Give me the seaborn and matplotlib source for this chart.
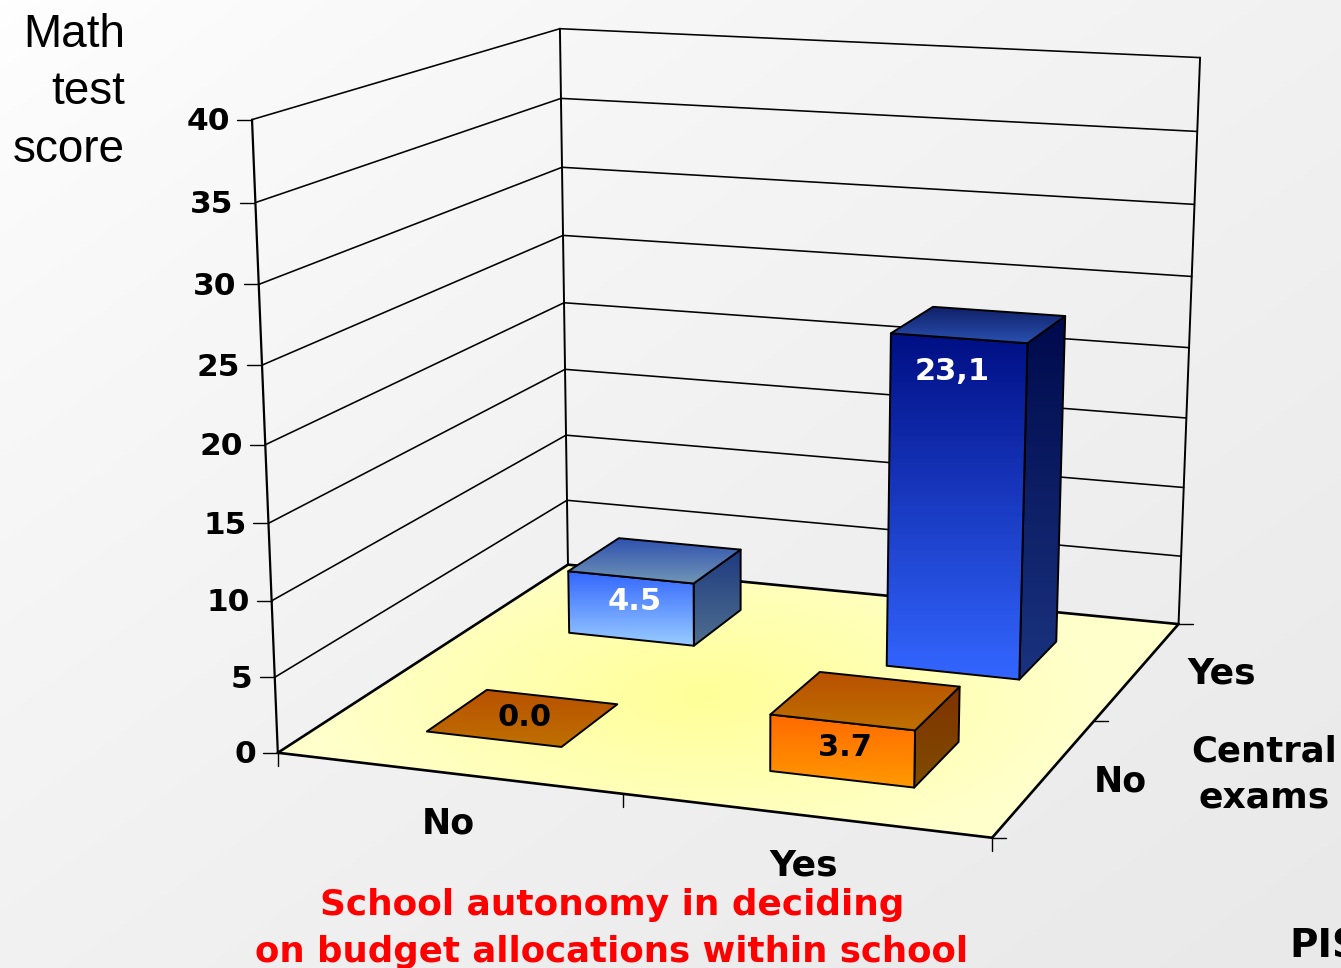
import numpy as np
import pandas as pd
import matplotlib
matplotlib.use('Agg')
import matplotlib.pyplot as plt
from matplotlib.patches import Polygon
import seaborn as sns

sns.set_theme(style='white')

# data
budget_labels = ['No', 'Yes']
exam_labels = ['No', 'Yes']
no_exam_scores = [0.0, 3.7]
exam_scores = [4.5, 23.1]
no_exam_text = ['0.0', '3.7']
exam_text = ['4.5', '23,1']
y_ticks = [0, 5, 10, 15, 20, 25, 30, 35, 40]

# picture points used to fit the 3D view: (budget, exams, score) -> pixel
view_world = [(0, 0, 0), (2, 0, 0), (2, 2, 0), (0, 2, 0), (0, 0, 40), (0, 2, 40), (2, 2, 40), (1, 0, 0), (2, 1, 0)]
view_pixel = [(278, 751), (992, 838), (1178, 623), (568, 566), (252, 120), (560, 28), (1200, 58), (622, 795), (1095, 721)]

BAR_W = 0.4
BAR_D = 0.4


def fit_view(world, pixel):
    rows = []
    for (x, d, y), (u, v) in zip(world, pixel):
        p = [x, d, y / 20, 1]
        rows.append(p + [0, 0, 0, 0] + [-u * c for c in p])
        rows.append([0, 0, 0, 0] + p + [-v * c for c in p])
    return np.linalg.svd(np.array(rows, float))[2][-1].reshape(3, 4)


P = fit_view(view_world, view_pixel)


def proj(x, d, y):
    q = P @ np.array([x, d, y / 20, 1.0])
    return q[0] / q[2], q[1] / q[2]


fig = plt.figure(figsize=(13.41, 9.68), dpi=100)
ax = fig.add_axes([0, 0, 1, 1])
ax.set_xlim(0, 1341)
ax.set_ylim(968, 0)
ax.axis('off')

# slide background
gy, gx = np.mgrid[0:1:200j, 0:1:200j]
bg_cmap = sns.blend_palette(['#ffffff', '#e9e9e9'], n_colors=64, as_cmap=True)
ax.imshow(((gx + gy) / 2) ** 0.7, extent=(0, 1341, 968, 0), cmap=bg_cmap, vmin=0, vmax=1, aspect='auto', zorder=0)


def gradient_face(pts, top, bottom, z):
    pts = np.array(pts)
    x0, x1, y0, y1 = pts[:, 0].min(), pts[:, 0].max(), pts[:, 1].min(), pts[:, 1].max()
    cmap = sns.blend_palette([top, bottom], n_colors=64, as_cmap=True)
    im = ax.imshow(np.linspace(0, 1, 64)[:, None], extent=(x0, x1, y1, y0), cmap=cmap, aspect='auto', zorder=z)
    im.set_clip_path(Polygon(pts, transform=ax.transData))
    ax.add_patch(Polygon(pts, closed=True, fill=False, edgecolor='black', lw=1.4, zorder=z + 0.1, joinstyle='round'))


# floor
floor = np.array([proj(0, 0, 0), proj(2, 0, 0), proj(2, 2, 0), proj(0, 2, 0)])
ry, rx = np.mgrid[500:860:200j, 270:1190:300j]
rad = np.clip(np.hypot((rx - 700) / 400, (ry - 695) / 170), 0, 1)
floor_cmap = sns.blend_palette(['#ffff99', '#ffffcc'], n_colors=64, as_cmap=True)
im = ax.imshow(rad, extent=(270, 1190, 860, 500), cmap=floor_cmap, aspect='auto', zorder=1)
im.set_clip_path(Polygon(floor, transform=ax.transData))
ax.set_xlim(0, 1341)
ax.set_ylim(968, 0)


def line3(a, b, lw=1.2, z=2):
    p, q = proj(*a), proj(*b)
    ax.plot([p[0], q[0]], [p[1], q[1]], color='black', lw=lw, zorder=z, solid_capstyle='round')


# walls
for v in y_ticks:
    line3((0, 0, v), (0, 2, v), lw=1.9 if v == 0 else 1.15)
    line3((0, 2, v), (2, 2, v), lw=1.9 if v == 0 else 1.15)
    px, py = proj(0, 0, v)
    ax.plot([px - 15, px], [py, py], color='black', lw=1.0, zorder=2)
    ax.text(px - 22, py + 2, str(v), ha='right', va='center', fontsize=22.5, fontweight='bold', color='black', zorder=5)
line3((0, 0, 0), (0, 0, 40), lw=1.6)
line3((0, 2, 0), (0, 2, 40), lw=1.4)
line3((2, 2, 0), (2, 2, 40), lw=1.4)
line3((0, 0, 0), (2, 0, 0), lw=1.9)
line3((2, 0, 0), (2, 2, 0), lw=1.9)

# floor ticks
for t in [0, 1, 2]:
    px, py = proj(t, 0, 0)
    ax.plot([px, px], [py, py + 13], color='black', lw=1.0, zorder=2)
    px, py = proj(2, t, 0)
    ax.plot([px, px + 14], [py, py], color='black', lw=1.0, zorder=2)

bars = pd.DataFrame({
    'budget': [0, 1, 0, 1],
    'exams': [1, 1, 0, 0],
    'score': exam_scores + no_exam_scores,
    'label': exam_text + no_exam_text,
    'text_color': ['white', 'white', 'black', 'black'],
    'front': [('#3366ff', '#99ccff'), ('#000f85', '#3366ff'), ('#ff6a00', '#ff9900'), ('#ff6a00', '#ff9900')],
    'side': [('#1f3a80', '#4f6f8f'), ('#000a4d', '#1a337f'), ('#7f3300', '#804c00'), ('#7f3300', '#804c00')],
    'top': [('#2f50b0', '#7095b5'), ('#0f1f66', '#2a50b0'), ('#b85000', '#bf7000'), ('#b85000', '#bf7000')],
})
label_xy = [(635, 601), (952, 371), (525, 718), (845, 747)]

for i, b in bars.iterrows():
    x0, x1 = b['budget'] + 0.5 - BAR_W / 2, b['budget'] + 0.5 + BAR_W / 2
    d0, d1 = b['exams'] + 0.5 - BAR_D / 2, b['exams'] + 0.5 + BAR_D / 2
    s = b['score']
    z = 3 + i
    if s > 0:
        gradient_face([proj(x1, d0, 0), proj(x1, d1, 0), proj(x1, d1, s), proj(x1, d0, s)], b['side'][0], b['side'][1], z)
        gradient_face([proj(x0, d0, 0), proj(x1, d0, 0), proj(x1, d0, s), proj(x0, d0, s)], b['front'][0], b['front'][1], z + 0.2)
    gradient_face([proj(x0, d0, s), proj(x1, d0, s), proj(x1, d1, s), proj(x0, d1, s)], b['top'][0], b['top'][1], z + 0.4)
    ax.text(*label_xy[i], b['label'], ha='center', va='center', fontsize=22, fontweight='bold', color=b['text_color'], zorder=10)

ax.set_xlim(0, 1341)
ax.set_ylim(968, 0)

# axis texts
ax.text(448, 824, budget_labels[0], ha='center', va='center', fontsize=25, fontweight='bold', color='black')
ax.text(804, 866, budget_labels[1], ha='center', va='center', fontsize=26, fontweight='bold', color='black')
ax.text(1120, 781, exam_labels[0], ha='center', va='center', fontsize=25, fontweight='bold', color='black')
ax.text(1222, 674, exam_labels[1], ha='center', va='center', fontsize=26, fontweight='bold', color='black')
ax.text(1264, 751, 'Central', ha='center', va='center', fontsize=25.5, fontweight='bold', color='black')
ax.text(1264, 797, 'exams', ha='center', va='center', fontsize=26, fontweight='bold', color='black')
ax.text(612, 905, 'School autonomy in deciding', ha='center', va='center', fontsize=25.8, fontweight='bold', color='#ff0000')
ax.text(612, 952, 'on budget allocations within school', ha='center', va='center', fontsize=25.6, fontweight='bold', color='#ff0000')
ax.text(1289, 947, 'PISA', ha='left', va='center', fontsize=28, fontweight='bold', color='black')
for word, yy in zip(['Math', 'test', 'score'], [35, 92, 150]):
    ax.text(125, yy, word, ha='right', va='center', fontsize=33, family='Liberation Sans', color='black')

fig.savefig('out.png', dpi=100)
